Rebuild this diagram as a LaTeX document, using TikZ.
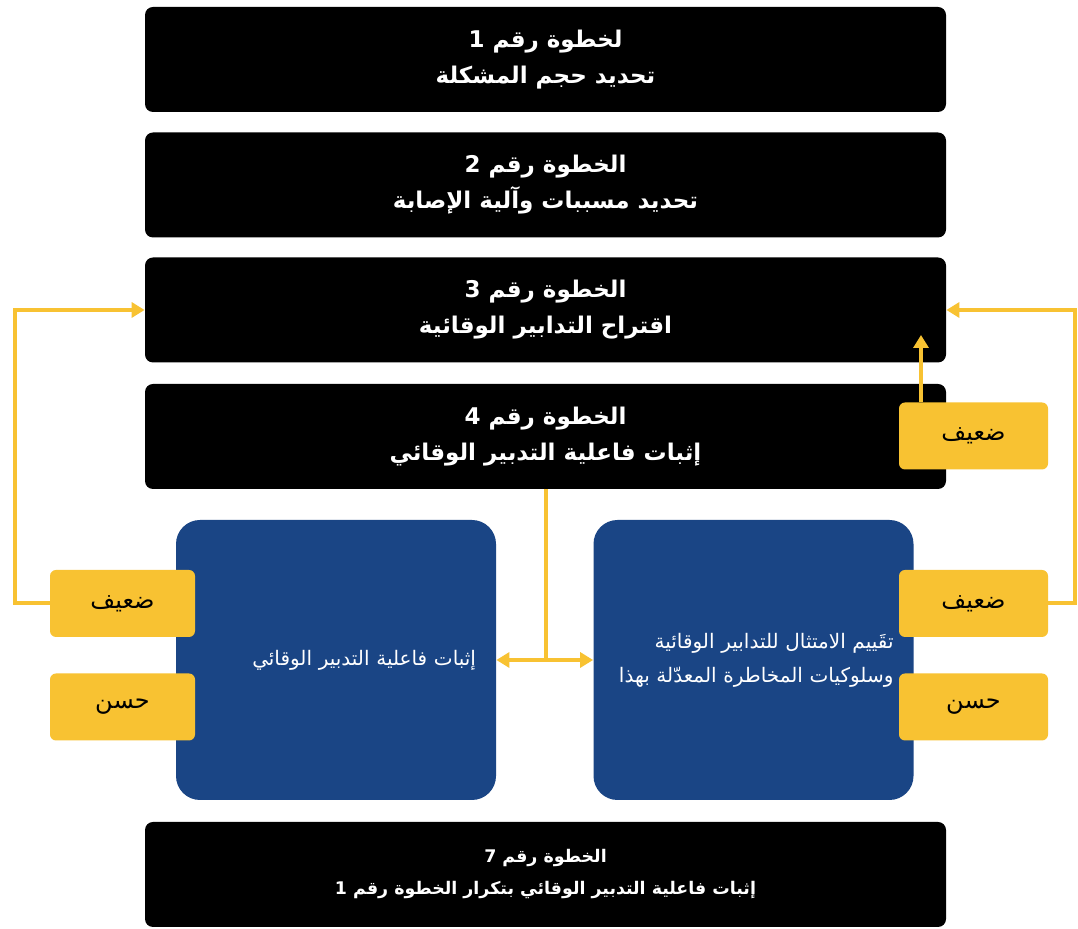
\documentclass[tikz,border=0pt]{standalone}
\usepackage{fontspec}
\usetikzlibrary{arrows.meta}
\TeXXeTstate=1
\newfontfamily\arabicfont[Script=Arabic]{DejaVu Sans}
\definecolor{panelblue}{HTML}{1A4585}
\definecolor{gold}{HTML}{F8C232}
\newcommand{\ar}[1]{\beginR #1\endR}
\begin{document}
\begin{tikzpicture}[x=0.5pt,y=-0.5pt,
  stepbox/.style={fill=black, rounded corners=4pt, minimum width=400.5pt, minimum height=52.5pt,
    text=white, align=center, inner sep=0pt, font=\arabicfont\bfseries\fontsize{11.5}{18}\selectfont},
  bluebox/.style={fill=panelblue, rounded corners=12pt, minimum width=160pt, minimum height=140pt,
    text=white, inner sep=0pt, text width=140pt, align=right, font=\arabicfont\fontsize{10}{17}\selectfont},
  goldbox/.style={fill=gold, rounded corners=3pt, minimum height=33.5pt, inner sep=0pt,
    text=black, font=\arabicfont\fontsize{12}{14}\selectfont},
  link/.style={draw=gold, line width=2pt},
  arr/.style={link, -{Triangle[length=6.5pt,width=7.5pt]}},
  darr/.style={link, {Triangle[length=6.5pt,width=7.5pt]}-{Triangle[length=6.5pt,width=7.5pt]}}]
\useasboundingbox[fill=white] (0,0) rectangle (1078,929);

\node[stepbox] (s1) at (545.5,59.5) {\ar{لخطوة رقم 1}\\\ar{تحديد حجم المشكلة}};
\node[stepbox] (s2) at (545.5,185) {\ar{الخطوة رقم 2}\\\ar{تحديد مسببات وآلية الإصابة}};
\node[stepbox] (s3) at (545.5,310) {\ar{الخطوة رقم 3}\\\ar{اقتراح التدابير الوقائية}};
\node[stepbox] (s4) at (545.5,436.5) {\ar{الخطوة رقم 4}\\\ar{إثبات فاعلية التدبير الوقائي}};
\node[stepbox, font=\arabicfont\bfseries\fontsize{8.7}{16}\selectfont] (s7) at (545.5,874.5)
  {\ar{الخطوة رقم 7}\\\ar{إثبات فاعلية التدبير الوقائي بتكرار الخطوة رقم 1}};

\node[bluebox] (bl) at (336,660) {\ar{إثبات فاعلية التدبير الوقائي}};
\node[bluebox] (br) at (753.5,660)
  {\ar{تقَييم الامتثال للتدابير الوقائية}\\\ar{وسلوكيات المخاطرة المعدّلة بهذا}};

\node[goldbox, minimum width=72.5pt] (yl1) at (122.5,603.5) {\ar{ضعيف}};
\node[goldbox, minimum width=72.5pt] (yl2) at (122.5,707) {\ar{حسن}};
\node[goldbox, minimum width=74.5pt] (yr1) at (973.5,603.5) {\ar{ضعيف}};
\node[goldbox, minimum width=74.5pt] (yr2) at (973.5,707) {\ar{حسن}};
\node[goldbox, minimum width=74.5pt] (yt) at (973.5,436) {\ar{ضعيف}};

\coordinate (L) at (15,310);
\coordinate (R) at (1075,310);
\coordinate (T) at (921,335);

\draw[arr] (yl1.west) -| (L) -- (s3.west);
\draw[arr] (yr1.east) -| (R) -- (s3.east);
\draw[arr] (yt.north -| T) -- (T);
\draw[link] (s4.south) -- (s4.south |- bl.east);
\draw[darr] (bl.east) -- (br.west);
\end{tikzpicture}
\end{document}
